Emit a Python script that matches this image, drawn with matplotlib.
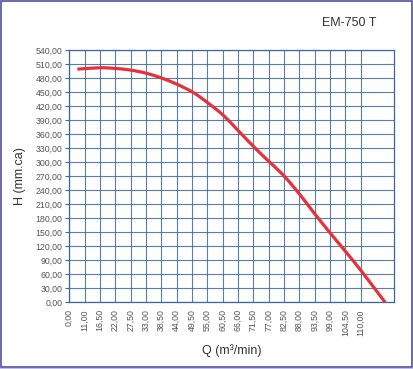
import matplotlib
matplotlib.use("Agg")
import numpy as np
import matplotlib.pyplot as plt
from matplotlib.patches import Rectangle, PathPatch
from matplotlib.path import Path

plt.rcParams['font.family'] = ['Liberation Sans', 'DejaVu Sans']

# curve (Q in m3/min, H in mm.ca)
q_vals = [8.4, 16.5, 22.0, 27.5, 33.3, 38.6, 44.0, 50.0, 55.4, 60.8, 66.0,
          71.5, 76.3, 82.3, 88.3, 93.6, 99.0, 105.0, 110.4, 118.8]
h_vals = [499, 502, 500.5, 497, 490, 480, 467, 449, 426, 400, 368,
          334, 306, 272, 230, 189, 149, 106, 66, 0]

x_ticks = [5.5 * (i + 1) for i in range(20)]
x_labels = ['0,00'] + ['{:.2f}'.format(5.5 * (i + 1)).replace('.', ',') for i in range(1, 20)]
y_ticks = list(range(0, 541, 30))
y_labels = ['{:.2f}'.format(v).replace('.', ',') for v in y_ticks]

grid_col = '#3b679f'
txt_col = '#555555'


def smooth_path(xs, ys):
    # catmull-rom through the points, as cubic bezier segments (like excel's smoothed line)
    p = np.column_stack([xs, ys]).astype(float)
    verts = [p[0]]
    codes = [Path.MOVETO]
    for i in range(len(p) - 1):
        p0 = p[i - 1] if i > 0 else p[i]
        p3 = p[i + 2] if i + 2 < len(p) else p[i + 1]
        c1 = p[i] + (p[i + 1] - p0) / 6.0
        c2 = p[i + 1] - (p3 - p[i]) / 6.0
        verts += [c1, c2, p[i + 1]]
        codes += [Path.CURVE4] * 3
    return Path(verts, codes)


fig = plt.figure(figsize=(4.14, 3.69), dpi=100)
ax = fig.add_axes([69.3 / 414, 66.7 / 369, (394 - 69.3) / 414, (319 - 66.7) / 369])

ax.add_patch(PathPatch(smooth_path(q_vals, h_vals), facecolor='none', edgecolor='#e8303a',
                       lw=2.3, capstyle='butt', joinstyle='round', zorder=3))

ax.set_xlim(5.5, 122.0)
ax.set_ylim(0, 540)
ax.set_xticks(x_ticks)
ax.set_xticklabels(x_labels, rotation=90, fontsize=6.3, color=txt_col)
ax.set_yticks(y_ticks)
ax.set_yticklabels(y_labels, fontsize=6.3, color=txt_col)
ax.tick_params(axis='y', length=3, width=0.8, color=grid_col, pad=2)
ax.tick_params(axis='x', length=0, pad=5)
ax.grid(True, color=grid_col, lw=0.8, alpha=0.85)
ax.set_axisbelow(True)
for s in ax.spines.values():
    s.set_color(grid_col)
    s.set_linewidth(0.9)

ax.set_xlabel('Q (m³/min)', fontsize=9, color='#333333', labelpad=6)
ax.set_ylabel('H (mm.ca)', fontsize=9, color='#333333', labelpad=7)

fig.text(349 / 414, 1 - 23.5 / 369, 'EM-750 T', fontsize=9, color='#333333', ha='center', va='center')

# outer frame
fig.patches.append(Rectangle((413 / 414, 0), 1.5 / 414, 1, transform=fig.transFigure,
                             facecolor='#c0c0e4', edgecolor='none'))
fig.patches.append(Rectangle((0, 0), 1, 1.5 / 369, transform=fig.transFigure,
                             facecolor='#c0c0e4', edgecolor='none'))
fig.patches.append(Rectangle((1.5 / 414, 2.5 / 369), 410.5 / 414, 366 / 369, transform=fig.transFigure,
                             facecolor='none', edgecolor='#50509e', lw=1.2))

fig.savefig('out.png', dpi=100)
